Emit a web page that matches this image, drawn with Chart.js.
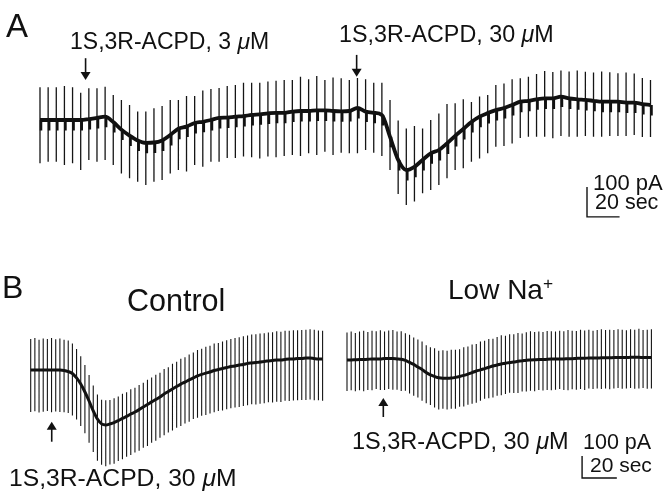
<!DOCTYPE html>
<html>
<head>
<meta charset="utf-8">
<script src="https://cdn.jsdelivr.net/npm/chart.js@4.4.1/dist/chart.umd.min.js"></script>
<style>
    body { margin: 0; background: #fff; }
    #page { position: relative; width: 670px; height: 493px; overflow: hidden; font-family: 'Liberation Sans', Arial, Helvetica, sans-serif; color: #111; }
    canvas { position: absolute; }
    .lbl { position: absolute; white-space: nowrap; line-height: 1; }
    .lbl i { font-style: italic; }
    .lbl sup { font-size: 62%; vertical-align: 0.55em; line-height: 0; }
</style>
</head>
<body>
<div id="page">
    <canvas id="chartA" width="670" height="240" style="left:0;top:0"></canvas>
    <canvas id="chartCtl" width="335" height="233" style="left:0;top:260px"></canvas>
    <canvas id="chartLow" width="335" height="233" style="left:335px;top:260px"></canvas>

    <div class="lbl" style="left:6px;top:9px;font-size:33px">A</div>
    <div class="lbl" style="left:70px;top:30px;font-size:23px">1S,3R-ACPD, 3 <i>&mu;</i>M</div>
    <div class="lbl" style="left:339px;top:23px;font-size:23.3px">1S,3R-ACPD, 30 <i>&mu;</i>M</div>
    <div class="lbl" style="left:593px;top:172px;font-size:22px">100 pA</div>
    <div class="lbl" style="left:595px;top:192px;font-size:21.5px">20 sec</div>

    <div class="lbl" style="left:2px;top:271px;font-size:32px">B</div>
    <div class="lbl" style="left:127px;top:285px;font-size:30.5px">Control</div>
    <div class="lbl" style="left:448px;top:276px;font-size:28px">Low Na<sup>+</sup></div>
    <div class="lbl" style="left:9px;top:466px;font-size:24.7px">1S,3R-ACPD, 30 <i>&mu;</i>M</div>
    <div class="lbl" style="left:352px;top:430px;font-size:23.5px">1S,3R-ACPD, 30 <i>&mu;</i>M</div>
    <div class="lbl" style="left:583px;top:432px;font-size:21.5px">100 pA</div>
    <div class="lbl" style="left:590px;top:454px;font-size:21px">20 sec</div>
</div>

<script>
// Panel A: holding current (pA) at each test pulse, pulse every 5 s
const A_DT = 5;
const A_base = [0, 0, 0, 0, 0, 0, 3, 7, 11, -7,
    -32, -52, -68, -76, -75, -68, -50, -29, -22, -10,
    -6, 0, 7, 8, 11, 13, 17, 19, 22, 24,
    24, 28, 30, 30, 32, 32, 30, 29, 30, 40,
    28, 24, 17, -56, -133, -167, -156, -133, -111, -100,
    -78, -53, -30, -7, 11, 23, 33, 40, 50, 61,
    64, 69, 72, 72, 78, 72, 69, 67, 64, 61,
    61, 61, 58, 58, 53, 50];
const A_top = [109, 109, 109, 113, 109, 91, 106, 106, 111, 83,
    67, 50, 28, 28, 39, 47, 67, 67, 80, 80,
    98, 103, 107, 113, 117, 124, 124, 124, 128, 131,
    133, 133, 144, 136, 147, 133, 142, 139, 133, 140,
    136, 124, 124, 67, -2, -28, -20, -28, 0, 22,
    53, 56, 69, 60, 78, 83, 117, 122, 136, 139,
    144, 153, 163, 160, 165, 162, 165, 161, 158, 162,
    159, 156, 158, 155, 140, 133];
const A_bot = [-144, -139, -139, -150, -144, -167, -133, -139, -133, -150,
    -178, -194, -206, -217, -206, -200, -178, -167, -172, -150,
    -156, -139, -139, -127, -127, -122, -124, -128, -122, -124,
    -120, -117, -120, -111, -117, -106, -117, -109, -111, -111,
    -100, -109, -120, -167, -247, -283, -272, -244, -233, -217,
    -194, -167, -161, -139, -128, -111, -89, -87, -78, -60,
    -56, -56, -56, -61, -53, -56, -56, -53, -56, -56,
    -53, -53, -53, -50, -57, -57];
const A_NOTCH = 35;              // capacitive dip under the trace
const A_drug = [28, 194.5];      // s, application of 3 uM and 30 uM

// Panel B: pulse every 2.4 s
const B_DT = 2.4;
const C_base = [0, 0, 0, 0, 0, 0, 0, 0, -2, -7,
    -16, -36, -64, -100, -141, -186, -223, -245, -250, -245,
    -239, -230, -220, -211, -200, -191, -180, -168, -157, -145,
    -134, -123, -109, -98, -86, -75, -64, -55, -45, -36,
    -27, -20, -14, -9, -2, 2, 7, 11, 16, 18,
    23, 25, 30, 32, 34, 36, 39, 41, 43, 45,
    45, 48, 50, 50, 52, 52, 55, 55, 52, 50, 50];
const C_top = [141, 145, 138, 143, 141, 146, 140, 143, 137, 134,
    120, 96, 63, 23, -23, -71, -111, -135, -138, -136,
    -128, -121, -108, -101, -87, -81, -68, -58, -44, -34,
    -22, -13, 4, 13, 28, 37, 51, 58, 71, 79,
    91, 97, 106, 110, 120, 123, 130, 135, 141, 145,
    149, 153, 157, 161, 162, 166, 167, 171, 172, 176,
    174, 178, 178, 181, 181, 182, 183, 185, 183, 179, 178];
const C_bot = [-191, -188, -193, -190, -186, -192, -189, -191, -192, -195,
    -207, -225, -254, -288, -331, -373, -412, -431, -438, -430,
    -426, -414, -406, -394, -386, -375, -367, -353, -345, -331,
    -322, -308, -297, -284, -275, -262, -254, -243, -235, -223,
    -217, -208, -205, -198, -192, -186, -184, -178, -174, -170,
    -168, -164, -160, -156, -157, -153, -151, -147, -148, -144,
    -145, -140, -141, -139, -138, -136, -136, -134, -138, -138, -140];
const C_drug = 12.1;

const L_base = [0, 0, 1, 2, 2, 3, 5, 5, 5, 7,
    7, 7, 5, 3, -2, -11, -20, -32, -43, -57,
    -68, -75, -81, -83, -83, -82, -79, -75, -70, -64,
    -57, -50, -45, -39, -33, -27, -23, -18, -15, -11,
    -9, -6, -4, -1, 0, 1, 2, 2, 3, 4,
    5, 5, 5, 6, 6, 7, 8, 8, 9, 9,
    9, 10, 10, 10, 11, 11, 11, 11, 12, 12,
    12, 11, 11, 11];
const L_top = [125, 129, 123, 129, 133, 127, 133, 131, 135, 130,
    134, 136, 130, 131, 122, 115, 102, 93, 84, 67,
    58, 53, 42, 44, 42, 47, 47, 49, 58, 61,
    70, 73, 84, 87, 95, 97, 104, 112, 110, 117,
    117, 123, 120, 126, 131, 127, 130, 127, 132, 131,
    129, 133, 131, 136, 133, 132, 137, 134, 137, 133,
    136, 140, 136, 138, 136, 140, 138, 135, 140, 138,
    142, 136, 138, 140];
const L_bot = [-141, -138, -142, -138, -142, -136, -137, -132, -136, -136,
    -132, -135, -135, -141, -140, -152, -163, -171, -185, -197,
    -205, -216, -225, -222, -225, -222, -222, -213, -211, -203,
    -199, -194, -185, -176, -174, -170, -162, -160, -155, -149,
    -150, -150, -143, -143, -140, -142, -136, -139, -136, -138,
    -135, -132, -136, -137, -133, -135, -132, -136, -129, -132,
    -130, -132, -130, -133, -130, -127, -131, -129, -127, -131,
    -129, -127, -131, -129];
const L_drug = 20.9;

// scale bars: 100 pA x 20 sec
const BAR_PA = 100;
const BAR_SEC = 20;

function pulseTimes(arr, dt) {
    return arr.map((_, i) => i * dt);
}

function spikeSegments(times, tops, bots) {
    const pts = [];
    times.forEach((t, i) => {
        pts.push({ x: t, y: bots[i] }, { x: t, y: tops[i] }, { x: t, y: null });
    });
    return pts;
}

function notchSegments(times, base, depth, shift) {
    const pts = [];
    times.forEach((t, i) => {
        pts.push({ x: t + shift, y: base[i] }, { x: t + shift, y: base[i] - depth }, { x: t + shift, y: null });
    });
    return pts;
}

function tracePoints(times, base) {
    return times.map((t, i) => ({ x: t, y: base[i] }));
}

function scaleBar(t0, y0) {
    return [{ x: t0, y: y0 }, { x: t0, y: y0 - BAR_PA }, { x: t0 + BAR_SEC, y: y0 - BAR_PA }];
}

// drug application arrows, drawn at data positions
function arrowPlugin(list) {
    return {
        id: 'drugArrows',
        afterDatasetsDraw(chart) {
            const { ctx, scales: { x, y } } = chart;
            list.forEach(a => {
                const px = x.getPixelForValue(a.t);
                const y0 = y.getPixelForValue(a.from);
                const y1 = y.getPixelForValue(a.to);
                const dir = Math.sign(y1 - y0);
                ctx.save();
                ctx.strokeStyle = '#111';
                ctx.fillStyle = '#111';
                ctx.lineWidth = 1.6;
                ctx.beginPath();
                ctx.moveTo(px, y0);
                ctx.lineTo(px, y1 - dir * 6);
                ctx.stroke();
                ctx.beginPath();
                ctx.moveTo(px - 5, y1 - dir * 8);
                ctx.lineTo(px + 5, y1 - dir * 8);
                ctx.lineTo(px, y1);
                ctx.closePath();
                ctx.fill();
                ctx.restore();
            });
        }
    };
}

function baseOptions(xmin, xmax, ymin, ymax) {
    return {
        responsive: false,
        animation: false,
        events: [],
        layout: { padding: 0 },
        elements: { point: { radius: 0 } },
        plugins: { legend: { display: false }, tooltip: { enabled: false } },
        scales: {
            x: { type: 'linear', display: false, min: xmin, max: xmax },
            y: { type: 'linear', display: false, min: ymin, max: ymax }
        }
    };
}

// Panel A
const tA = pulseTimes(A_base, A_DT);
new Chart(document.getElementById('chartA'), {
    type: 'line',
    data: {
        datasets: [
            { data: spikeSegments(tA, A_top, A_bot), borderColor: '#151515', borderWidth: 1.3, spanGaps: false },
            { data: notchSegments(tA, A_base, A_NOTCH, 0.6), borderColor: '#111', borderWidth: 2.6, spanGaps: false },
            { data: tracePoints(tA, A_base), borderColor: '#111', borderWidth: 3.8, cubicInterpolationMode: 'monotone' },
            { data: scaleBar(336, -223), borderColor: '#111', borderWidth: 1.4 }
        ]
    },
    options: baseOptions(-24.57, 386.98, -400, 400),
    plugins: [arrowPlugin([
        { t: A_drug[0], from: 206, to: 133 },
        { t: A_drug[1], from: 217, to: 144 }
    ])]
});

// Panel B, control
const tC = pulseTimes(C_base, B_DT);
new Chart(document.getElementById('chartCtl'), {
    type: 'line',
    data: {
        datasets: [
            { data: spikeSegments(tC, C_top, C_bot), borderColor: '#151515', borderWidth: 1.1, spanGaps: false },
            { data: tracePoints(tC, C_base), borderColor: '#111', borderWidth: 3, cubicInterpolationMode: 'monotone' }
        ]
    },
    options: baseOptions(-17.67, 175.14, -559.1, 500),
    plugins: [arrowPlugin([{ t: C_drug, from: -326, to: -235 }])]
});

// Panel B, low Na+
const tL = pulseTimes(L_base, B_DT);
new Chart(document.getElementById('chartLow'), {
    type: 'line',
    data: {
        datasets: [
            { data: spikeSegments(tL, L_top, L_bot), borderColor: '#151515', borderWidth: 1.1, spanGaps: false },
            { data: tracePoints(tL, L_base), borderColor: '#111', borderWidth: 3, cubicInterpolationMode: 'monotone' },
            { data: scaleBar(135.3, -436), borderColor: '#111', borderWidth: 1.4 }
        ]
    },
    options: baseOptions(-6.906, 185.9, -604.5, 454.5),
    plugins: [arrowPlugin([{ t: L_drug, from: -259, to: -173 }])]
});
</script>
</body>
</html>
